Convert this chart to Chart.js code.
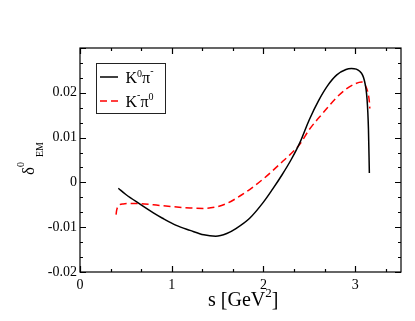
<!DOCTYPE html>
<html>
<head>
<meta charset="utf-8">
<script src="https://cdn.jsdelivr.net/npm/chart.js@4"></script>
<style>
  body { margin: 0; background: #fff; }
  #wrap { width: 415px; height: 321px; }
</style>
</head>
<body>
<div id="wrap"><canvas id="c"></canvas></div>
<script>
// K0 pi- (solid black)
const sK0 = [0.418, 0.5, 0.65, 0.8, 0.9, 1.05, 1.2, 1.35, 1.48, 1.6, 1.7, 1.85, 2.0, 2.1, 2.2, 2.3, 2.4, 2.5, 2.6, 2.7, 2.8, 2.9, 2.96, 3.05, 3.1, 3.13, 3.145, 3.155];
const dK0 = [-0.0013, -0.0027, -0.0048, -0.0068, -0.008, -0.0096, -0.0107, -0.0117, -0.012, -0.0114, -0.0103, -0.008, -0.0044, -0.0015, 0.0016, 0.005, 0.009, 0.014, 0.0182, 0.0216, 0.024, 0.0252, 0.0254, 0.0248, 0.0228, 0.0185, 0.012, 0.0021];
// K- pi0 (dashed red)
const sKm = [0.393, 0.4, 0.42, 0.47, 0.6, 0.8, 1.0, 1.2, 1.35, 1.5, 1.6, 1.7, 1.85, 2.0, 2.1, 2.2, 2.3, 2.4, 2.5, 2.65, 2.8, 2.9, 3.0, 3.07, 3.11, 3.14, 3.155, 3.16];
const dKm = [-0.0072, -0.0062, -0.0052, -0.0048, -0.0047, -0.005, -0.0054, -0.0057, -0.0058, -0.0054, -0.0047, -0.0036, -0.0016, 0.0008, 0.0026, 0.0045, 0.0064, 0.0086, 0.0118, 0.0155, 0.019, 0.0208, 0.022, 0.0224, 0.0217, 0.02, 0.018, 0.0165];

const xMajor = [0, 1, 2, 3];
const yMajor = [-0.02, -0.01, 0, 0.01, 0.02, 0.03];
const nMinor = 3;

const pts = (xs, ys) => xs.map((x, i) => ({ x, y: ys[i] }));
const serif = "'Liberation Serif', 'DejaVu Serif', serif";
Chart.defaults.font.family = serif;
Chart.defaults.color = '#000';

function seq(ctx, parts, x, y) {
  // parts: [text, size, dy]
  parts.forEach(([t, size, dy]) => {
    ctx.font = size + 'px ' + serif;
    ctx.fillText(t, x, y + dy);
    x += ctx.measureText(t).width;
  });
}

const frame = {
  id: 'frame',
  afterDraw(chart) {
    const { ctx, chartArea: a, scales } = chart;
    const xs = scales.x, ys = scales.y;
    ctx.save();
    ctx.strokeStyle = '#000';
    ctx.lineWidth = 1.2;
    ctx.strokeRect(a.left, a.top, a.right - a.left, a.bottom - a.top);
    ctx.beginPath();
    const xStep = xMajor[1] - xMajor[0];
    xMajor.forEach(v => {
      for (let k = 0; k < nMinor; k++) {
        const val = v + k * xStep / nMinor;
        if (val > xs.max + 1e-9) continue;
        const p = Math.round(xs.getPixelForValue(val)) + 0.5;
        const len = k === 0 ? 6 : 3;
        ctx.moveTo(p, a.bottom); ctx.lineTo(p, a.bottom - len);
        ctx.moveTo(p, a.top); ctx.lineTo(p, a.top + len);
      }
    });
    const yStep = yMajor[1] - yMajor[0];
    yMajor.forEach(v => {
      for (let k = 0; k < nMinor; k++) {
        const val = v + k * yStep / nMinor;
        if (val > ys.max + 1e-9) continue;
        const p = Math.round(ys.getPixelForValue(val)) + 0.5;
        const len = k === 0 ? 6 : 3;
        ctx.moveTo(a.left, p); ctx.lineTo(a.left + len, p);
        ctx.moveTo(a.right, p); ctx.lineTo(a.right - len, p);
      }
    });
    ctx.stroke();

    // axis titles
    ctx.fillStyle = '#000';
    ctx.textBaseline = 'alphabetic';
    ctx.textAlign = 'left';
    seq(ctx, [['s [GeV', 20, 0], ['2', 13, -9], [']', 20, 0]], 208, 306);

    ctx.save();
    ctx.translate(34, 175);
    ctx.rotate(-Math.PI / 2);
    ctx.font = '17px ' + serif;
    ctx.fillText('δ', 0, 0);
    ctx.font = '10px ' + serif;
    ctx.fillText('0', 8, -10);
    ctx.fillText('EM', 18, 9);
    ctx.restore();

    // legend
    ctx.lineWidth = 1;
    ctx.strokeStyle = '#222';
    ctx.strokeRect(96.5, 63.5, 69, 50);
    ctx.lineWidth = 1.5;
    ctx.strokeStyle = '#000';
    ctx.setLineDash([]);
    ctx.beginPath(); ctx.moveTo(100, 77); ctx.lineTo(118, 77); ctx.stroke();
    ctx.strokeStyle = '#ff0000';
    ctx.setLineDash([7, 4]);
    ctx.beginPath(); ctx.moveTo(100, 101); ctx.lineTo(120, 101); ctx.stroke();
    ctx.setLineDash([]);
    seq(ctx, [['K', 16, 0], ['0', 10, -6], ['π', 16, 0], ['-', 10, -9]], 125.5, 83);
    seq(ctx, [['K', 16, 0], ['-', 10, -9], ['π', 16, 0], ['0', 10, -7]], 125.5, 107);
    ctx.restore();
  }
};

new Chart(document.getElementById('c'), {
  type: 'scatter',
  data: {
    datasets: [
      {
        label: 'K0π-',
        data: pts(sK0, dK0),
        showLine: true,
        borderColor: '#000',
        borderWidth: 1.5,
        pointRadius: 0,
        cubicInterpolationMode: 'monotone',
      },
      {
        label: 'K-π0',
        data: pts(sKm, dKm),
        showLine: true,
        borderColor: '#ff0000',
        borderWidth: 1.5,
        borderDash: [7, 4],
        pointRadius: 0,
        cubicInterpolationMode: 'monotone',
      },
    ],
  },
  options: {
    responsive: true,
    maintainAspectRatio: false,
    animation: false,
    layout: { padding: { top: 48, right: 14, left: 0, bottom: 0 } },
    plugins: { legend: { display: false }, tooltip: { enabled: false } },
    scales: {
      x: {
        type: 'linear',
        min: 0,
        max: 3.5,
        afterFit: s => { s.height = 49; },
        grid: { display: false, drawTicks: false },
        border: { display: false },
        ticks: {
          stepSize: 1,
          includeBounds: false,
          padding: 5,
          color: '#000',
          font: { family: serif, size: 14 },
          callback: v => (xMajor.includes(v) ? String(v) : ''),
        },
      },
      y: {
        type: 'linear',
        min: -0.02,
        max: 0.03,
        afterFit: s => { s.width = 80; },
        grid: { display: false, drawTicks: false },
        border: { display: false },
        ticks: {
          stepSize: 0.01,
          padding: 3,
          color: '#000',
          font: { family: serif, size: 14 },
          callback: v => {
            const r = Math.round(v * 100) / 100;
            if (r >= 0.03) return '';
            return r === 0 ? '0' : r.toFixed(2);
          },
        },
      },
    },
  },
  plugins: [frame],
});
</script>
</body>
</html>
